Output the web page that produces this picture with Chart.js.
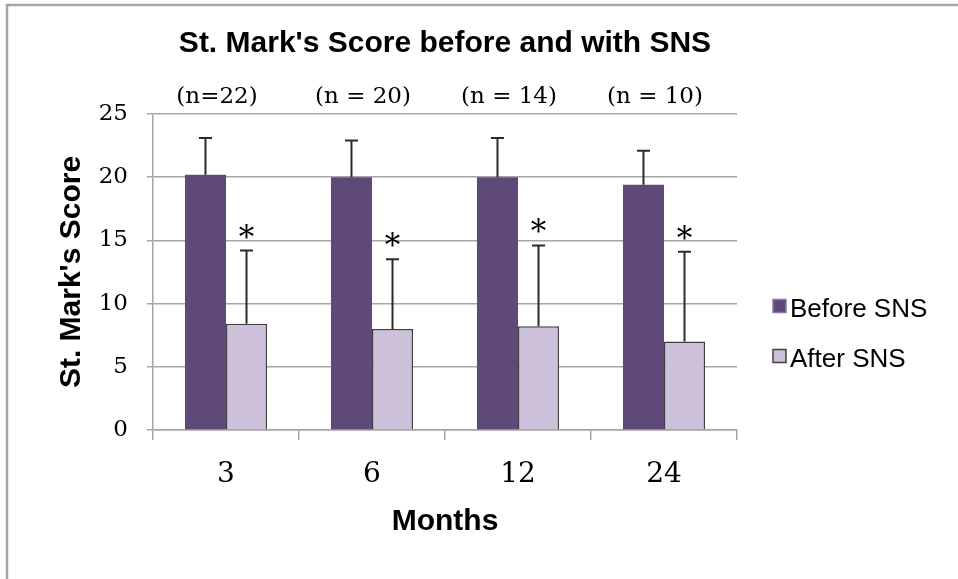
<!DOCTYPE html>
<html>
<head>
<meta charset="utf-8">
<title>St. Mark's Score before and with SNS</title>
<script src="https://cdn.jsdelivr.net/npm/chart.js@4"></script>
<style>
  html, body { margin: 0; padding: 0; background: #ffffff; }
  canvas { display: block; }
</style>
</head>
<body>
<canvas id="chart-sns" width="958" height="579"></canvas>
<script>
// Datos del gráfico
const meses = ['3', '6', '12', '24'];
const tamanosMuestra = ['(n=22)', '(n = 20)', '(n = 14)', '(n = 10)'];
const antesSNS = [20.2, 20.0, 20.0, 19.4];
const despuesSNS = [8.4, 8.0, 8.2, 7.0];
const errorAntes = [2.9, 2.9, 3.1, 2.7];
const errorDespues = [5.8, 5.5, 6.4, 7.1];
const marcasSignificativas = ['*', '*', '*', '*'];
const ejeY = { min: 0, max: 25, paso: 5 };

const colorAntes = '#5f497a';
const colorDespues = '#ccc0da';
const colorGrid = '#a6a6a6';

// Barras de error, asteriscos, etiquetas n, título, leyenda y marco
const pluginExtras = {
  id: 'extras',
  beforeDraw(chart) {
    const ctx = chart.ctx;
    ctx.save();
    ctx.fillStyle = '#ffffff';
    ctx.fillRect(0, 0, chart.width, chart.height);
    // Marco gris
    ctx.strokeStyle = '#a5a5a5';
    ctx.lineWidth = 2.5;
    ctx.beginPath();
    ctx.moveTo(7, chart.height + 5);
    ctx.lineTo(7, 5);
    ctx.lineTo(chart.width + 5, 5);
    ctx.stroke();
    ctx.restore();
  },
  afterDatasetsDraw(chart) {
    const ctx = chart.ctx;
    const y = chart.scales.y;
    const errores = [errorAntes, errorDespues];
    ctx.save();
    ctx.strokeStyle = '#2b2b2b';
    ctx.lineWidth = 2;
    chart.data.datasets.forEach((ds, i) => {
      const meta = chart.getDatasetMeta(i);
      meta.data.forEach((bar, j) => {
        const top = y.getPixelForValue(ds.data[j] + errores[i][j]);
        ctx.beginPath();
        ctx.moveTo(bar.x, bar.y);
        ctx.lineTo(bar.x, top);
        ctx.moveTo(bar.x - 6.5, top);
        ctx.lineTo(bar.x + 6.5, top);
        ctx.stroke();
      });
    });

    // Asteriscos sobre las barras "después"
    const metaDespues = chart.getDatasetMeta(1);
    ctx.fillStyle = '#000000';
    ctx.font = '31px "DejaVu Serif"';
    ctx.textAlign = 'center';
    ctx.textBaseline = 'alphabetic';
    metaDespues.data.forEach((bar, j) => {
      const top = y.getPixelForValue(despuesSNS[j] + errorDespues[j]);
      ctx.fillText(marcasSignificativas[j], bar.x, top - 3);
    });

    // Etiquetas (n = ..)
    const x = chart.scales.x;
    ctx.font = '23px "DejaVu Serif"';
    ctx.textBaseline = 'middle';
    tamanosMuestra.forEach((txt, j) => {
      ctx.fillText(txt, x.getPixelForValue(j) - 9, 97);
    });

    // Título
    const area = chart.chartArea;
    ctx.font = 'bold 30px "Liberation Sans", Arial, sans-serif';
    ctx.fillText("St. Mark's Score before and with SNS", (area.left + area.right) / 2, 44);

    // Leyenda
    ctx.textAlign = 'left';
    ctx.font = '26px "Liberation Sans", Arial, sans-serif';
    const filas = [306, 356];
    chart.data.datasets.forEach((ds, i) => {
      const cy = filas[i];
      ctx.fillStyle = ds.backgroundColor;
      ctx.fillRect(773, cy - 6.5, 13, 13);
      ctx.strokeStyle = i === 0 ? '#8a78a0' : '#404040';
      ctx.lineWidth = 1.5;
      ctx.strokeRect(773, cy - 6.5, 13, 13);
      ctx.fillStyle = '#000000';
      ctx.fillText(ds.label, 790, cy + 4);
    });
    ctx.restore();
  }
};

function crearGrafico() {
  const ctx = document.getElementById('chart-sns');
  new Chart(ctx, {
    type: 'bar',
    data: {
      labels: meses,
      datasets: [
        {
          label: 'Before SNS',
          data: antesSNS,
          backgroundColor: colorAntes,
          borderWidth: 0,
          categoryPercentage: 0.562,
          barPercentage: 1.0
        },
        {
          label: 'After SNS',
          data: despuesSNS,
          backgroundColor: colorDespues,
          borderColor: '#404040',
          borderWidth: 1.5,
          categoryPercentage: 0.562,
          barPercentage: 1.0
        }
      ]
    },
    options: {
      responsive: false,
      animation: false,
      layout: {
        padding: { left: 0, top: 114, right: 221, bottom: 0 }
      },
      plugins: {
        legend: { display: false },
        title: { display: false },
        tooltip: { enabled: false }
      },
      scales: {
        x: {
          afterFit: (scale) => { scale.height = 149; },
          grid: {
            drawOnChartArea: false,
            drawTicks: true,
            tickLength: 10,
            color: colorGrid,
            lineWidth: 1.5
          },
          border: { display: true, color: colorGrid, width: 1.5 },
          ticks: {
            color: '#000000',
            padding: 18,
            font: { family: 'DejaVu Serif', size: 28 }
          },
          title: {
            display: true,
            text: 'Months',
            color: '#000000',
            padding: { top: 0, bottom: 39 },
            font: { family: 'Liberation Sans', size: 30, weight: 'bold' }
          }
        },
        y: {
          min: ejeY.min,
          max: ejeY.max,
          afterFit: (scale) => { scale.width = 153; },
          grid: {
            drawTicks: true,
            tickLength: 6,
            color: colorGrid,
            lineWidth: 1.5
          },
          border: { display: true, color: colorGrid, width: 1.5 },
          ticks: {
            stepSize: ejeY.paso,
            color: '#000000',
            padding: 19,
            font: { family: 'DejaVu Serif', size: 23 }
          },
          title: {
            display: true,
            text: "St. Mark's Score",
            color: '#000000',
            padding: { top: 54, bottom: 0 },
            font: { family: 'Liberation Sans', size: 30, weight: 'bold' }
          }
        }
      }
    },
    plugins: [pluginExtras]
  });
}

document.addEventListener('DOMContentLoaded', () => {
  crearGrafico();
});
</script>
</body>
</html>
